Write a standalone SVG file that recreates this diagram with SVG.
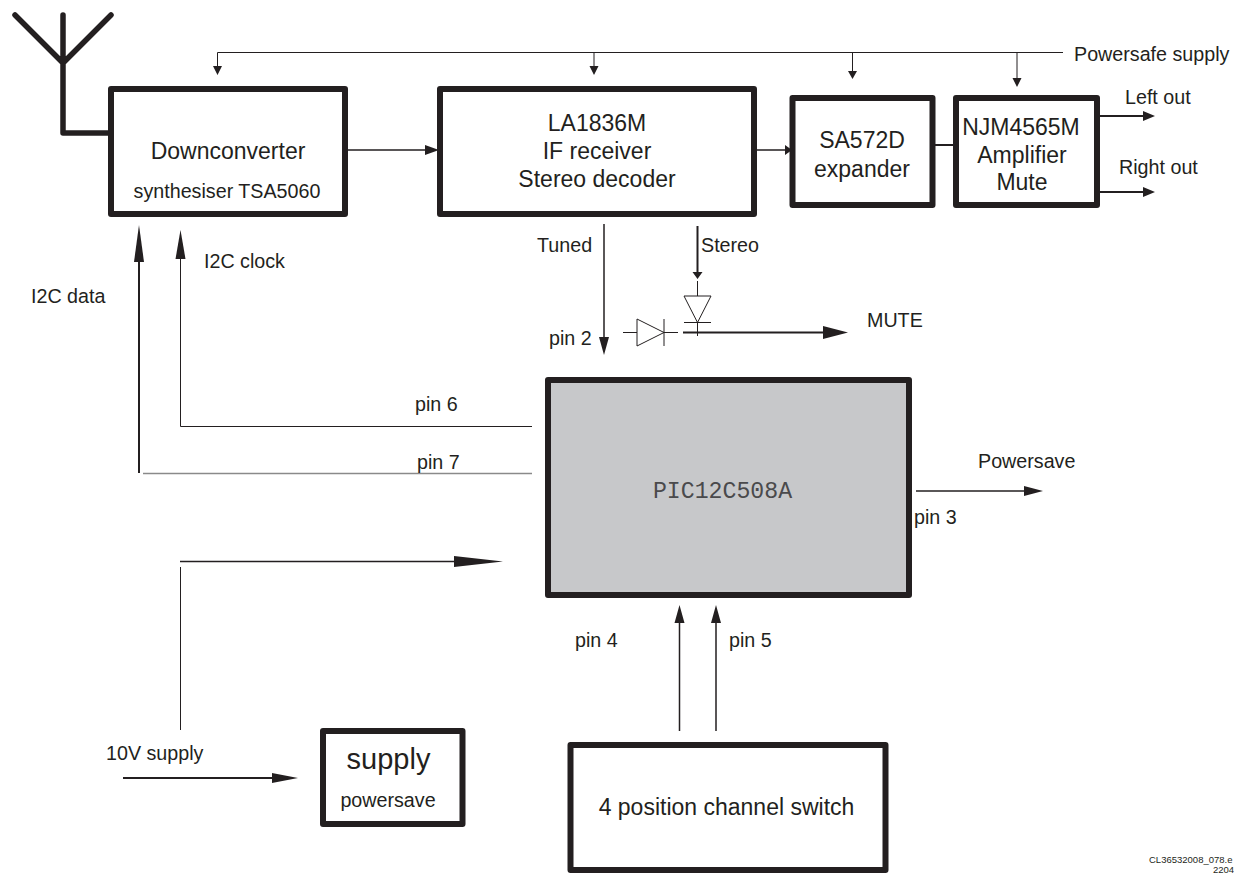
<svg xmlns="http://www.w3.org/2000/svg" width="1234" height="873" viewBox="0 0 1234 873">
<style>
text{font-family:"Liberation Sans",Arial,sans-serif;fill:#231f20;font-size:19.7px}
.big{font-size:23px}
.box{fill:#fff;stroke:#231f20;stroke-width:6;stroke-linejoin:round}
.t{fill:none;stroke:#231f20;stroke-width:1}
.m{fill:none;stroke:#231f20;stroke-width:1.5}
.h{fill:none;stroke:#231f20;stroke-width:2}
.g{fill:none;stroke:#8a8a8a;stroke-width:1.5}
.a{fill:none;stroke:#231f20;stroke-width:5.5;stroke-linecap:round;stroke-linejoin:round}
.f{fill:#231f20}
.c{text-anchor:middle}
</style>
<rect width="1234" height="873" fill="#fff"/>
<g id="connectors">
<path class="a" d="M15 15L63 63L111 15M63 15V133H110"/>
<path class="t" d="M217.5 52.5H1063M217.5 52.5V66M594 52.5V66M852.5 52.5V71M1017 52.5V78"/>
<path class="f" d="M213 66h9l-4.500 9zM589.500 66h9l-4.500 9zM848 71h9l-4.500 8zM1012.500 78h9l-4.500 9z"/>
<path class="m" d="M346 150H428M757 150H785"/>
<path class="h" d="M934 145H955"/>
<path class="f" d="M425 145l14 5-14 5zM785 145l7 5-7 5z"/>
<path class="h" d="M1100 116H1144M1100 192H1144"/>
<path class="f" d="M1143 111l12 5-12 5zM1143 187l12 5-12 5z"/>
<path class="m" d="M604 224V338"/>
<path class="h" d="M697.500 226V273"/>
<path class="f" d="M599 337h10l-5 18zM692.500 272h10l-5 7z"/>
<path class="t" d="M697.500 281V296M684 296H711L697.500 322.500ZM684 322.500H711M697.500 322.500V336M623 332.500H637M637 319L664 332.500L637 346ZM664 319V346M664 332.500H678"/>
<path class="h" d="M683 332.500H825"/>
<path class="f" d="M823 326l25 6.500-25 6.500z"/>
<path class="t" d="M532 426.500H180.500V259"/>
<path class="f" d="M175.500 259l5-29 5 29z"/>
<path class="h" d="M139 262V473"/>
<path class="g" d="M143 473.500H532"/>
<path class="f" d="M134 262l5-37 5 37z"/>
<path class="m" d="M916 491H1025"/>
<path class="f" d="M1024 486l19 5-19 5z"/>
<path class="t" d="M180.500 730V567"/>
<path class="m" d="M180 561.500H456"/>
<path class="f" d="M454 556l49 5.500-49 5.500z"/>
<path class="h" d="M123 778H274"/>
<path class="f" d="M272 773l26 5-26 5z"/>
<path class="m" d="M679.500 731V622M716 731V622"/>
<path class="f" d="M674.500 623l5-18 5 18zM711 623l5-18 5 18z"/>
</g>
<g id="downconverter"><rect class="box" x="111" y="89" width="234" height="125"/><text class="c big" x="228" y="159">Downconverter</text><text class="c" x="227" y="198">synthesiser TSA5060</text></g>
<g id="receiver"><rect class="box" x="440" y="89" width="314" height="125"/><text class="c big" x="597" y="131">LA1836M</text><text class="c big" x="597" y="159">IF receiver</text><text class="c big" x="597" y="187">Stereo decoder</text></g>
<g id="expander"><rect class="box" x="792.500" y="98" width="140" height="107"/><text class="c big" x="862" y="148">SA572D</text><text class="c big" x="862" y="177">expander</text></g>
<g id="amplifier"><rect class="box" x="956" y="98" width="141" height="107"/><text class="c big" x="1021" y="135">NJM4565M</text><text class="c big" x="1022" y="163">Amplifier</text><text class="c big" x="1022" y="190">Mute</text></g>
<g id="pic"><rect x="548" y="380" width="361" height="215" fill="#c7c8ca" stroke="#231f20" stroke-width="6" stroke-linejoin="round"/><text class="c" x="722.500" y="497.500" style="font-family:'Liberation Mono',monospace;font-size:23.200px;fill:#4a4a4c">PIC12C508A</text></g>
<g id="supply"><rect class="box" x="323" y="731" width="139.500" height="93"/><text class="c" x="388.500" y="769" style="font-size:29px">supply</text><text class="c" x="388" y="807">powersave</text></g>
<g id="switch"><rect class="box" x="570.500" y="745" width="315" height="125"/><text class="c big" x="726.500" y="815">4 position channel switch</text></g>
<g id="labels">
<text x="1074" y="61">Powersafe supply</text>
<text x="1125" y="104">Left out</text>
<text x="1119" y="174">Right out</text>
<text x="537" y="252">Tuned</text>
<text x="701" y="252">Stereo</text>
<text x="204" y="268">I2C clock</text>
<text x="31" y="303">I2C data</text>
<text x="549" y="345">pin 2</text>
<text x="867" y="327">MUTE</text>
<text x="415" y="411">pin 6</text>
<text x="417" y="469">pin 7</text>
<text x="978" y="468">Powersave</text>
<text x="914" y="524">pin 3</text>
<text x="575" y="647">pin 4</text>
<text x="729" y="647">pin 5</text>
<text x="106" y="760">10V supply</text>
<text x="1149" y="863" style="font-size:9.500px">CL36532008_078.e</text>
<text x="1213" y="873" style="font-size:9.500px">2204</text>
</g>
</svg>
